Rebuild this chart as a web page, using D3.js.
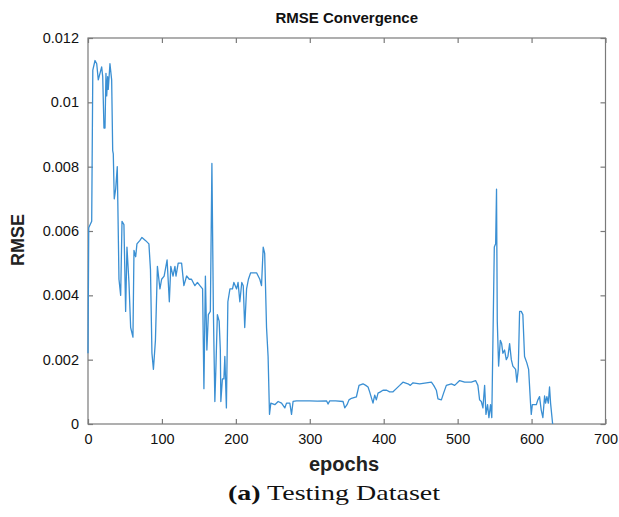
<!DOCTYPE html>
<html>
<head>
<meta charset="utf-8">
<script src="https://cdn.jsdelivr.net/npm/d3@7"></script>
<style>
  html, body { margin: 0; padding: 0; background: #fff; }
  svg { display: block; }
</style>
</head>
<body>
<svg id="chart" width="619" height="517"></svg>
<script>
const epochs = [0,1,5,6.5,9.5,11.8,13.9,16.2,18.5,19.9,21.6,23,24.3,25.3,26.6,27.4,29.7,32,33.4,34.2,35.5,37.4,39.6,41.9,44.2,46,48.6,50.9,52.7,55.4,57.7,60.8,62.2,64.5,66.2,70,73,78,82.4,84.5,86.5,88.5,91.2,93.9,97.3,99.6,103,107,110,112,115,117.6,119,122,126.6,129.7,133.4,137,140,144.6,148,151.4,155,156.8,158.8,160.8,162.8,165.5,167.6,169.6,171.6,173.2,175,177.4,179,179.7,181.8,183.8,185.1,187.2,189.2,192,195.5,197.3,201,203,205.4,208,210,212,214.5,217,220,223.4,228,232.4,234.7,237,239,241.5,243.6,245.5,247.3,252.7,257.2,261.8,266.2,268.5,273,275.3,277.4,282,300,310,322.6,324.7,327,335,345,347.3,350.4,353,356.4,363,366.6,372,375.7,378.8,381,385.5,387.8,390,392.3,395.5,399,404,408,412.6,417,421.6,426,432.8,436,439.6,448.6,457.7,464.5,467.6,471.2,473.4,478,481,484.7,491.5,496,502.7,509.5,518.5,524.3,527.4,529.7,532,534.2,536.5,538.3,540.5,542.3,544.5,546.2,549.6,551.4,552.6,553.6,555.4,557.7,559.5,561.2,563.5,565.8,568,570.3,572.6,574.7,578.4,580.1,582,583.8,586,588.2,590.5,593.6,596,598.6,599.6,601,606.4,608.5,610.8,613,615.3,617.6,619,620.7,622.6,624.3,625.7,628.5];
const rmse = [0.0022,0.0061,0.0063,0.0110,0.0113,0.0112,0.0107,0.0109,0.0111,0.0108,0.0092,0.0092,0.0109,0.0102,0.0108,0.0104,0.0112,0.0107,0.0085,0.0084,0.0070,0.0073,0.0080,0.0045,0.0040,0.0063,0.0062,0.0035,0.0055,0.0044,0.0030,0.0027,0.0054,0.0052,0.0056,0.0057,0.0058,0.0057,0.0056,0.0048,0.0022,0.0017,0.0026,0.0049,0.0042,0.0045,0.0046,0.0051,0.0038,0.0049,0.0046,0.0049,0.0046,0.0050,0.0050,0.0043,0.0046,0.0045,0.0045,0.0043,0.0044,0.0043,0.0042,0.0011,0.0046,0.0023,0.0034,0.0035,0.0081,0.0035,0.0007,0.0019,0.0034,0.0032,0.0023,0.0007,0.0014,0.0014,0.0021,0.0005,0.0038,0.0042,0.0042,0.0044,0.0042,0.0044,0.0038,0.0044,0.0043,0.0030,0.0042,0.0045,0.0047,0.0047,0.0047,0.0045,0.0043,0.0055,0.0053,0.0030,0.0021,0.0003,0.00065,0.0006,0.0007,0.00065,0.0005,0.00065,0.00065,0.0003,0.0007,0.00072,0.00072,0.00071,0.00072,0.00062,0.00072,0.00072,0.0007,0.0005,0.0006,0.00075,0.0008,0.00084,0.0012,0.00125,0.0012,0.00115,0.0010,0.00065,0.0009,0.00075,0.00096,0.0010,0.00105,0.00105,0.0010,0.0010,0.0011,0.0012,0.0013,0.00125,0.0012,0.00128,0.00125,0.00128,0.0013,0.0012,0.00105,0.00078,0.00075,0.00096,0.0012,0.00125,0.0012,0.00135,0.0013,0.0013,0.00135,0.0012,0.00075,0.0007,0.0005,0.0012,0.0003,0.0006,0.0002,0.0006,0.0002,0.0055,0.0056,0.0073,0.0032,0.0018,0.0026,0.0025,0.0022,0.0023,0.0020,0.0021,0.0025,0.0020,0.0018,0.0017,0.0013,0.0017,0.0035,0.0035,0.0034,0.0021,0.0019,0.0017,0.00064,0.0003,0.0006,0.0006,0.00075,0.00085,0.00044,0.0002,0.00087,0.00065,0.00085,0.00065,0.00115,0.00065,0];
const xTicks = [0,100,200,300,400,500,600,700];
const yTicks = [0,0.002,0.004,0.006,0.008,0.01,0.012];
const yTickLabels = ["0","0.002","0.004","0.006","0.008","0.01","0.012"];
const titleText = "RMSE Convergence";
const xLabelText = "epochs";
const yLabelText = "RMSE";
const captionBold = "(a)";
const captionText = " Testing Dataset";

const svg = d3.select("#chart");
const L = 88, R = 605.5, T = 38, B = 424;
const x = d3.scaleLinear().domain([0, 700]).range([L, R]);
const y = d3.scaleLinear().domain([0, 0.012]).range([B, T]);
const axisColor = "#7a7a7a";
const tickLen = 5;

// box
svg.append("rect").attr("x", L).attr("y", T).attr("width", R - L).attr("height", B - T)
  .attr("fill", "none").attr("stroke", axisColor).attr("stroke-width", 1.2);

const gx = svg.append("g").attr("transform", `translate(0,${B})`)
  .call(d3.axisBottom(x).tickValues(xTicks).tickSize(-tickLen).tickPadding(10).tickFormat(d3.format("d")));
const gxt = svg.append("g").attr("transform", `translate(0,${T})`)
  .call(d3.axisTop(x).tickValues(xTicks).tickSize(-tickLen).tickFormat(""));
const gy = svg.append("g").attr("transform", `translate(${L},0)`)
  .call(d3.axisLeft(y).tickValues(yTicks).tickSize(-tickLen).tickPadding(9).tickFormat((d, i) => yTickLabels[i]));
const gyr = svg.append("g").attr("transform", `translate(${R},0)`)
  .call(d3.axisRight(y).tickValues(yTicks).tickSize(-tickLen).tickFormat(""));

[gx, gxt, gy, gyr].forEach(g => {
  g.select(".domain").remove();
  g.selectAll(".tick line").attr("stroke", axisColor).attr("stroke-width", 1.2);
  g.selectAll(".tick text").attr("fill", "#111").attr("font-family", "Liberation Sans, Arial, sans-serif").attr("font-size", 14.5);
});

// line
const pts = epochs.map((e, i) => [e, rmse[i]]);
const line = d3.line().x(d => x(d[0])).y(d => y(d[1]));
svg.append("path").datum(pts).attr("d", line)
  .attr("fill", "none").attr("stroke", "#3a8fd3").attr("stroke-width", 1.3).attr("stroke-linejoin", "round");

// title
svg.append("text").attr("x", (L + R) / 2).attr("y", 23).attr("text-anchor", "middle")
  .attr("font-family", "Liberation Sans, Arial, sans-serif").attr("font-weight", "bold").attr("font-size", 15)
  .attr("fill", "#111").text(titleText);

// x label
svg.append("text").attr("x", 344).attr("y", 471).attr("text-anchor", "middle")
  .attr("font-family", "Liberation Sans, Arial, sans-serif").attr("font-size", 20).attr("font-weight", "bold")
  .attr("fill", "#222").text(xLabelText);

// y label
svg.append("text").attr("transform", `translate(24,240) rotate(-90)`).attr("text-anchor", "middle")
  .attr("font-family", "Liberation Sans, Arial, sans-serif").attr("font-size", 18).attr("font-weight", "bold")
  .attr("fill", "#222").text(yLabelText);

// caption
const cap = svg.append("text").attr("x", 334).attr("y", 500).attr("text-anchor", "middle")
  .attr("font-family", "Liberation Serif, Times New Roman, serif").attr("font-size", 22).attr("fill", "#111")
  .attr("textLength", 212).attr("lengthAdjust", "spacingAndGlyphs");
cap.append("tspan").attr("font-weight", "bold").text(captionBold);
cap.append("tspan").text(captionText);
</script>
</body>
</html>
